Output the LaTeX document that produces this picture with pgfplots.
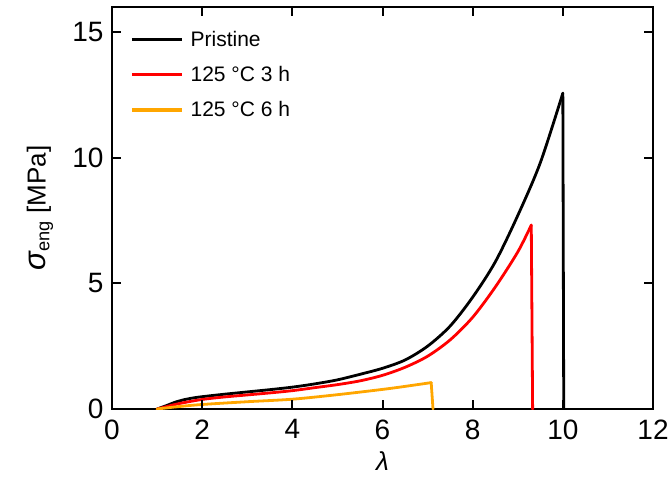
\documentclass[border=0pt]{standalone}
\usepackage{fontspec}
\setmainfont{Liberation Sans}
\usepackage{pgfplots}
\pgfplotsset{compat=1.18}
\definecolor{myorange}{RGB}{255,166,0}
\definecolor{myred}{RGB}{255,0,0}

\begin{document}
\begin{tikzpicture}
\begin{axis}[
  width=541pt, height=402pt, scale only axis,
  xmin=0, xmax=12, ymin=0, ymax=16,
  xtick={0,2,...,12}, ytick={0,5,10,15},
  tick style={draw=none},
  axis line style={line width=1.9pt},
  /pgf/number format/assume math mode=true,
  ticklabel style={font=\fontsize{28}{32}\selectfont},
  xticklabel style={yshift=-7pt},
  yticklabel style={xshift=-5pt},
  every axis x label/.style={at={(axis description cs:0.5,0)}, anchor=center, yshift=-52pt,
    font=\fontsize{26}{30}\selectfont},
  every axis y label/.style={at={(axis description cs:0,0.5)}, anchor=center, rotate=90, yshift=72pt,
    font=\fontsize{26}{30}\selectfont},
  xlabel={\itshape λ},
  ylabel={{\fontsize{31}{32}\selectfont\itshape σ}\textsubscript{eng} [MPa]},
  legend style={draw=none, fill=none, at={(axis description cs:0,1)}, anchor=north west,
    xshift=18pt, yshift=-22pt, inner sep=0pt,
    font=\fontsize{21}{25}\selectfont, row sep=14.5pt},
  legend cell align=left,
  legend image code/.code={\draw[#1, line width=3.4pt, line cap=butt] (0pt,0pt) -- (50pt,0pt);},
]
% Pristine
\addplot[black, line width=2.8pt, smooth, line cap=round] coordinates {
  (1.0,0) (1.2,0.13) (1.4,0.27) (1.6,0.37) (1.8,0.44) (2.0,0.49)
  (2.5,0.59) (3.0,0.68) (3.5,0.77) (4.0,0.87) (4.5,1.0) (5.0,1.16)
  (5.5,1.38) (6.0,1.62) (6.5,1.95) (7.0,2.5) (7.5,3.3) (8.0,4.45)
  (8.5,5.85) (9.0,7.7) (9.5,9.8) (10.0,12.57)
};
\addlegendentry{\hspace{5pt}Pristine}
\addplot[black, line width=2.8pt, line cap=round, forget plot] coordinates {
  (10.0,12.57) (10.02,0)
};
% 125 C 3 h
\addplot[myred, line width=2.8pt, smooth, line cap=round] coordinates {
  (1.0,0) (1.2,0.09) (1.5,0.22) (2.0,0.38) (2.5,0.48) (3.0,0.56)
  (3.5,0.64) (4.0,0.73) (4.5,0.85) (5.0,0.97) (5.5,1.12) (6.0,1.34)
  (6.5,1.66) (7.0,2.1) (7.5,2.75) (8.0,3.65) (8.5,4.85) (9.0,6.25)
  (9.3,7.32)
};
\addlegendentry{\hspace{5pt}125 °C 3 h}
\addplot[myred, line width=2.8pt, line cap=round, forget plot] coordinates {
  (9.3,7.32) (9.33,0)
};
% 125 C 6 h
\addplot[myorange, line width=2.8pt, smooth, line cap=round] coordinates {
  (1.0,0) (1.5,0.1) (2.0,0.18) (3.0,0.29) (4.0,0.39) (5.0,0.57)
  (6.0,0.78) (6.5,0.9) (7.08,1.05)
};
\addlegendentry{\hspace{5pt}125 °C 6 h}
\addplot[myorange, line width=2.8pt, line cap=round, forget plot] coordinates {
  (7.08,1.05) (7.12,0)
};
\end{axis}
% inward tick marks on all four sides (axis box is 541pt x 402pt at the origin)
\foreach \x in {2,4,6,8,10} {
  \draw[black, line width=2pt] ({\x*541/12*1pt},0pt) -- ++(0pt,9pt);
  \draw[black, line width=2pt] ({\x*541/12*1pt},402pt) -- ++(0pt,-9pt);
}
\foreach \y in {5,10,15} {
  \draw[black, line width=2pt] (0pt,{\y*402/16*1pt}) -- ++(9pt,0pt);
  \draw[black, line width=2pt] (541pt,{\y*402/16*1pt}) -- ++(-9pt,0pt);
}
\pgfresetboundingbox
\useasboundingbox (-112pt,-70pt) rectangle (559pt,409pt);
\end{tikzpicture}
\end{document}
